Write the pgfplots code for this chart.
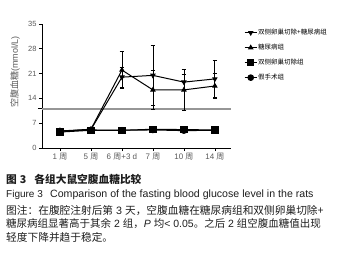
\documentclass[border=0pt]{standalone}
\usepackage{fontspec}
\setmainfont{Liberation Sans}
\newfontfamily\cjk{Noto Sans CJK SC}
\usepackage{pgfplots}
\pgfplotsset{compat=1.18}
\definecolor{refgray}{RGB}{150,150,150}
\definecolor{labgray}{RGB}{90,90,90}
\definecolor{captxt}{RGB}{30,30,30}

\begin{document}
\begin{tikzpicture}[x=1pt,y=1pt]
\path[use as bounding box] (0,0) rectangle (340,-255);
\begin{axis}[
  scale only axis, width=189pt, height=124pt,
  at={(42pt,-148pt)}, anchor=south west,
  xmin=-0.58, xmax=5.52, ymin=0, ymax=35,
  axis x line*=bottom, axis y line*=left,
  axis line style={-, line width=0.8pt, black},
  xtick={0,...,5},
  xticklabels={{1 {\cjk 周}}, {5 {\cjk 周}}, {6 {\cjk 周}+3 d}, {7 {\cjk 周}}, {10 {\cjk 周}}, {14 {\cjk 周}}},
  ytick={0,7,...,35},
  /pgf/number format/assume math mode=true,
  tick align=outside,
  major tick length=3pt,
  tick style={black, line width=0.7pt},
  ticklabel style={text=labgray},
  xticklabel style={font=\fontsize{8}{9}\selectfont, yshift=1pt},
  yticklabel style={font=\fontsize{7.5}{9}\selectfont, xshift=1pt},
  extra y ticks={11.1}, extra y tick labels={},
  extra y tick style={major tick length=4pt, tick style={line width=1.4pt, black}},
  legend style={at={(1.069,0.968)}, anchor=north west, draw=none, fill=none,
    font=\cjk\fontsize{6.5}{7}\selectfont, row sep=6pt, inner sep=0pt,
    nodes={inner sep=1pt}},
  legend cell align=left,
  legend image code/.code={
    \draw[mark repeat=2,mark phase=2] plot coordinates {(0pt,0pt) (6pt,0pt) (12pt,0pt)};
  },
  error bars/error bar style={line width=0.8pt, black},
  error bars/error mark options={rotate=90, mark size=2.2pt, line width=0.8pt, black},
]
\addplot[refgray, line width=2pt, forget plot] coordinates {(-0.58,11.1) (5.52,11.1)};

% 双侧卵巢切除+糖尿病组
\addplot[black, line width=1pt, mark=triangle*, mark size=2.3pt, mark options={rotate=180, solid, fill=black},
  error bars/.cd, y dir=both, y explicit]
  coordinates {(0,4.7) +- (0,0.3) (1,5.2) +- (0,0.3) (2,20.0) +- (0,2.8) (3,20.5) +- (0,8.4) (4,18.6) +- (0,2.3) (5,19.5) +- (0,5.1)};
\addlegendentry{双侧卵巢切除+糖尿病组}

% 糖尿病组
\addplot[black, line width=1pt, mark=triangle*, mark size=2.3pt, mark options={solid, fill=black},
  error bars/.cd, y dir=both, y explicit]
  coordinates {(0,4.8) +- (0,0.3) (1,5.3) +- (0,0.3) (2,22.0) +- (0,5.3) (3,16.4) +- (0,5.6) (4,16.4) +- (0,5.7) (5,17.5) +- (0,3.6)};
\addlegendentry{糖尿病组}

% 双侧卵巢切除组
\addplot[black, line width=1pt, mark=square*, mark size=3.2pt, mark options={solid, fill=black},
  error bars/.cd, y dir=both, y explicit]
  coordinates {(0,4.5) +- (0,0.6) (1,5.0) +- (0,0.4) (2,5.0) +- (0,0.3) (3,5.3) +- (0,0.4) (4,5.2) +- (0,0.6) (5,5.1) +- (0,0.3)};
\addlegendentry{双侧卵巢切除组}

% 假手术组
\addplot[black, line width=1pt, mark=*, mark size=2.8pt, mark options={solid, fill=black},
  error bars/.cd, y dir=both, y explicit]
  coordinates {(0,4.8) +- (0,0.3) (1,5.1) +- (0,0.3) (2,5.0) +- (0,0.3) (3,5.1) +- (0,0.3) (4,4.9) +- (0,0.3) (5,5.0) +- (0,0.3)};
\addlegendentry{假手术组}
\end{axis}

\node[rotate=90, text=labgray, inner sep=0pt, font=\fontsize{9}{10}\selectfont] at (15,-72) {{\cjk 空腹血糖}(mmol/L)};

\node[anchor=base west, inner sep=0pt, text=captxt] at (6,-183) {\cjk\bfseries\fontsize{10.7}{12}\selectfont 图\hspace{3pt}3\hspace{8pt}各组大鼠空腹血糖比较};
\node[anchor=base west, inner sep=0pt, text=captxt] at (6,-197) {\fontsize{10}{12}\selectfont Figure 3};
\node[anchor=base west, inner sep=0pt, text=captxt] at (50,-197) {\fontsize{10.6}{12}\selectfont Comparison of the fasting blood glucose level in the rats};
\node[anchor=base west, inner sep=0pt, text=captxt] at (6,-214) {\fontsize{10.7}{12}\selectfont{\cjk 图注：在腹腔注射后第} 3 {\cjk 天，空腹血糖在糖尿病组和双侧卵巢切除+}};
\node[anchor=base west, inner sep=0pt, text=captxt] at (6,-227.5) {\fontsize{10.5}{12}\selectfont{\cjk 糖尿病组显著高于其余} 2 {\cjk 组，}\textit{P} {\cjk 均}< 0.05{\cjk 。之后} 2 {\cjk 组空腹血糖值出现}};
\node[anchor=base west, inner sep=0pt, text=captxt] at (6,-241.5) {\cjk\fontsize{10.7}{12}\selectfont 轻度下降并趋于稳定。};
\end{tikzpicture}
\end{document}
